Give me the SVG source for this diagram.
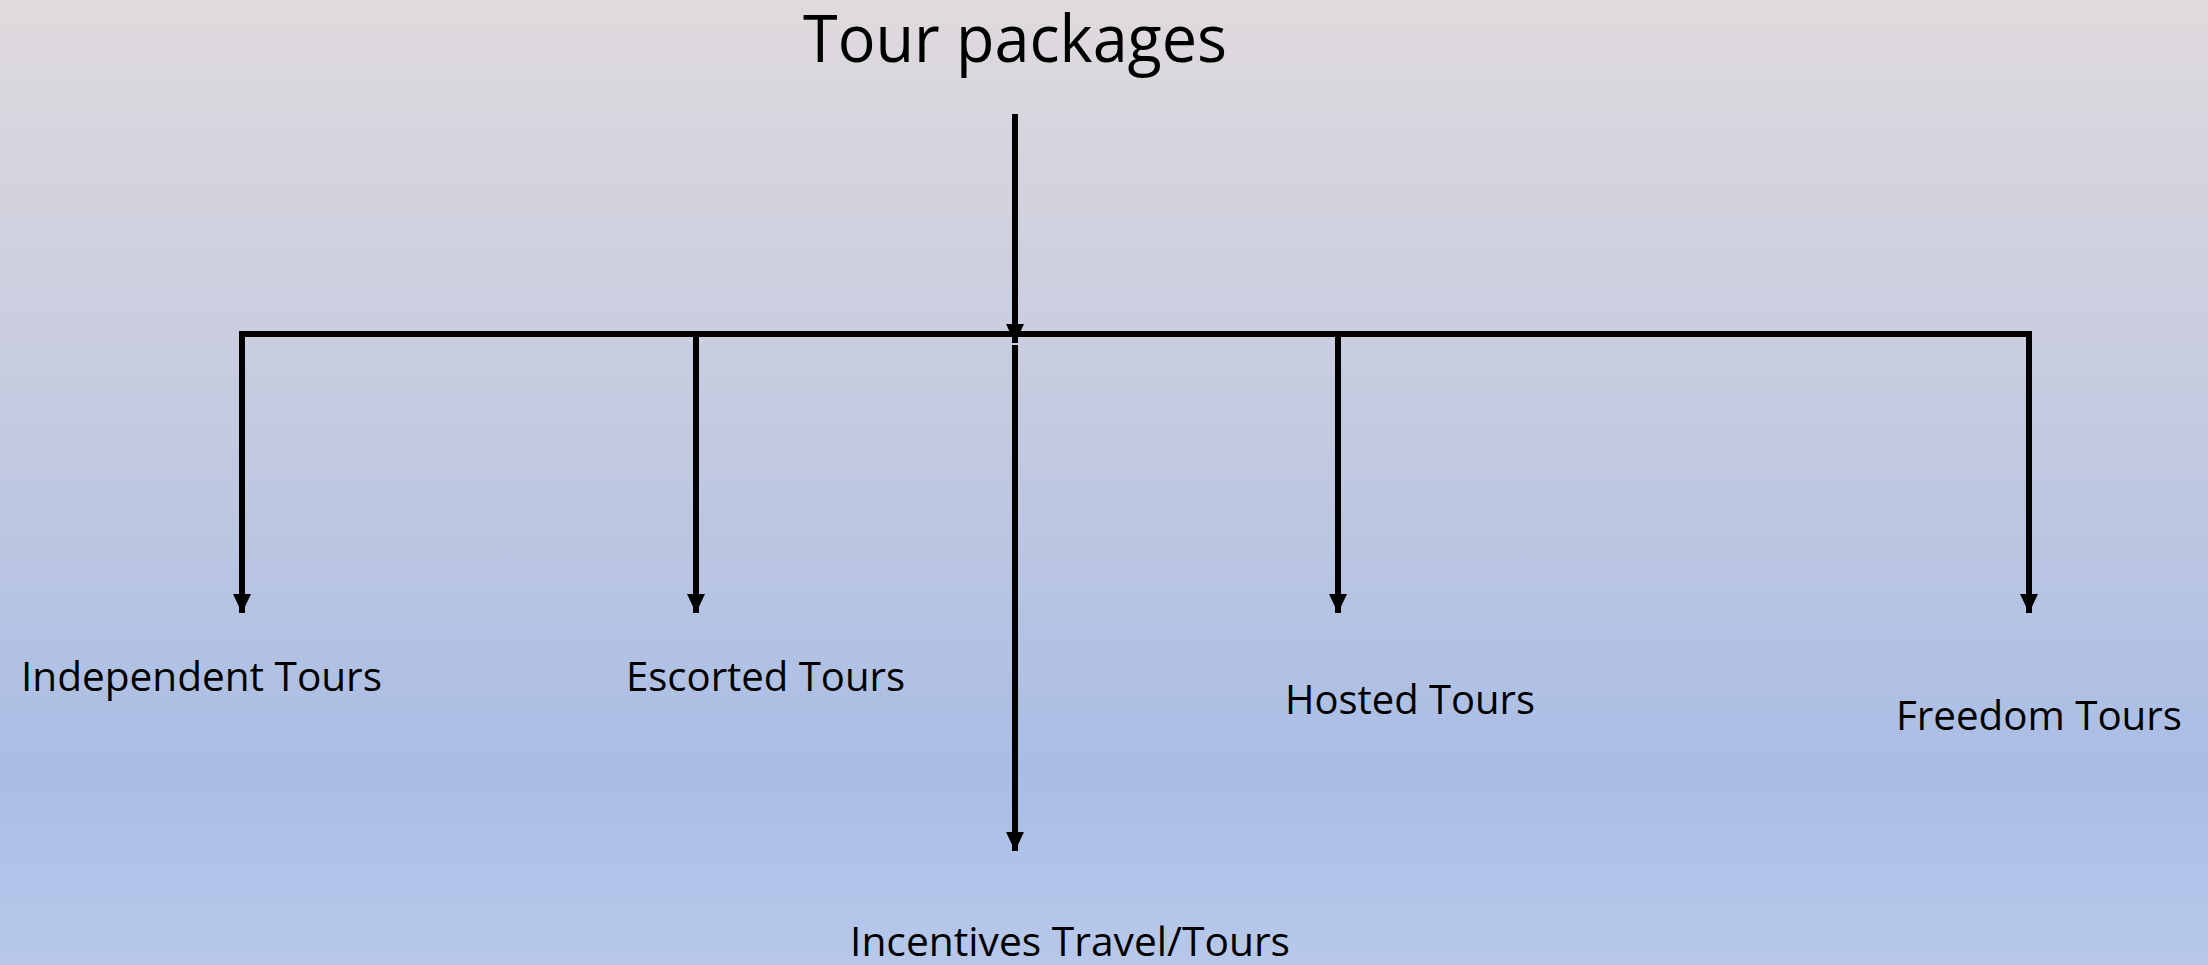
<svg xmlns="http://www.w3.org/2000/svg" width="2208" height="965" viewBox="0 0 2208 965">
  <defs>
    <linearGradient id="bg" x1="0" y1="0" x2="0" y2="1">
      <stop offset="0" stop-color="#dfdadd"/>
      <stop offset="0.45" stop-color="#c3cae0"/>
      <stop offset="0.8" stop-color="#a9bde5"/>
      <stop offset="1" stop-color="#b7c8ea"/>
    </linearGradient>
    <marker id="arrow" markerUnits="userSpaceOnUse" markerWidth="19" markerHeight="18" refX="19" refY="9" orient="auto" viewBox="0 0 19 18">
      <path d="M0,0 L19,9 L0,18 z" fill="#000"/>
    </marker>
    <style>
      .lbl { font-family: "Open Sans", "Liberation Sans", sans-serif; font-size: 40px; fill: #000; }
      .title { font-family: "Open Sans", "Liberation Sans", sans-serif; font-size: 66px; fill: #000; }
      .conn { stroke: #000; stroke-width: 6; fill: none; }
      .arr { stroke: #000; stroke-width: 6; fill: none; marker-end: url(#arrow); }
    </style>
  </defs>
  <rect x="0" y="0" width="2208" height="965" fill="url(#bg)"/>

  <g id="connectors">
    <line class="arr" x1="1015" y1="114" x2="1015" y2="343"/>
    <line class="conn" x1="239" y1="334" x2="2032" y2="334"/>
    <line class="arr" x1="242" y1="331" x2="242" y2="613"/>
    <line class="arr" x1="696" y1="334" x2="696" y2="613"/>
    <line class="arr" x1="1015" y1="345" x2="1015" y2="851"/>
    <line class="arr" x1="1338" y1="334" x2="1338" y2="613"/>
    <line class="arr" x1="2029" y1="331" x2="2029" y2="613"/>
  </g>

  <g id="node-title">
    <text class="title" x="803" y="62" textLength="424" lengthAdjust="spacingAndGlyphs">Tour packages</text>
  </g>
  <g id="node-independent">
    <text class="lbl" x="21" y="691" textLength="361" lengthAdjust="spacingAndGlyphs">Independent Tours</text>
  </g>
  <g id="node-escorted">
    <text class="lbl" x="626" y="691" textLength="279" lengthAdjust="spacingAndGlyphs">Escorted Tours</text>
  </g>
  <g id="node-incentives">
    <text class="lbl" x="850" y="956" textLength="440" lengthAdjust="spacingAndGlyphs">Incentives Travel/Tours</text>
  </g>
  <g id="node-hosted">
    <text class="lbl" x="1285" y="714" textLength="250" lengthAdjust="spacingAndGlyphs">Hosted Tours</text>
  </g>
  <g id="node-freedom">
    <text class="lbl" x="1896" y="730" textLength="286" lengthAdjust="spacingAndGlyphs">Freedom Tours</text>
  </g>
</svg>
